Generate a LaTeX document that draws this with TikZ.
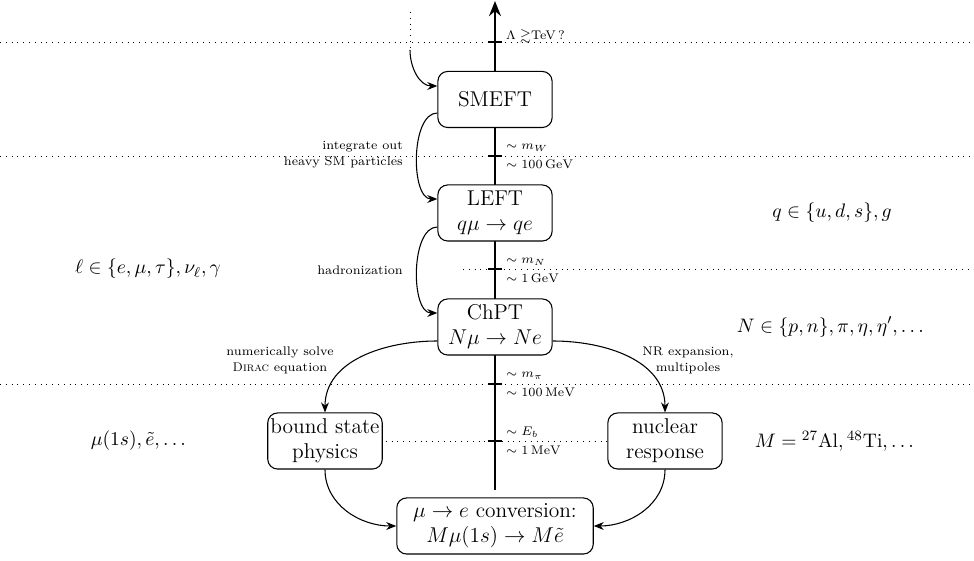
\documentclass[tikz,border=0pt]{standalone}
\usepackage{amsmath,amssymb}
\usetikzlibrary{arrows.meta,calc}
\begin{document}
\begin{tikzpicture}[x=0.56pt,y=-0.56pt,
  box/.style={draw,semithick,rounded corners=5.5pt,fill=white,align=center,minimum width=64pt,minimum height=31.4pt,inner sep=1.5pt,font=\large},
  lvl/.style={dash pattern=on 0.45pt off 2.8pt,line width=0.45pt},
  flow/.style={semithick,-{Stealth[length=5.6pt,width=4.4pt]}},
  small/.style={font=\scriptsize,inner sep=1pt},
  side/.style={font=\fontsize{11.2}{13.5}\selectfont},
  tick/.style={line width=0.8pt}]
\useasboundingbox (0,0) rectangle (974,561);
% scale levels
\draw[lvl] (0,42) -- (974,42);
\draw[lvl] (0,156) -- (974,156);
\draw[lvl] (463,269) -- (974,269);
\draw[lvl] (0,384) -- (974,384);
% axis
\coordinate (axb) at (495,490);
\coordinate (axt) at (495,1);
\draw[line width=1.5pt,-{Stealth[length=8.4pt,width=6.6pt]}] (axb) -- (axt);
\foreach \yy in {42,156,269,384,441} \draw[tick] (488,\yy) -- (502,\yy);
% nodes
\node[box] (smeft) at (495,99.5) {SMEFT};
\node[box] (left) at (495,213) {LEFT\\$q\mu\to qe$};
\node[box] (chpt) at (495,327) {ChPT\\$N\mu\to Ne$};
\node[box] (bound) at (325,441) {bound state\\physics};
\node[box] (nucl) at (665,441) {nuclear\\response};
\node[box,minimum width=110pt] (conv) at (495,526) {$\mu\to e$ conversion:\\$M\mu(1s)\to M\tilde e$};
\draw[lvl] ($(bound.east)+(3,0)$) -- (nucl.west);
% axis labels
\node[small,anchor=west] (lam) at (504,36) {$\Lambda\gtrsim$TeV\,?};
\node[small,anchor=west] (mw) at (504,148) {$\sim m_W$};
\node[small,anchor=west] (gev1) at (504,164) {$\sim 100\,\mathrm{GeV}$};
\node[small,anchor=west] (mn) at (504,262) {$\sim m_N$};
\node[small,anchor=west] (gev2) at (504,278) {$\sim 1\,\mathrm{GeV}$};
\node[small,anchor=west] (mpi) at (504,376) {$\sim m_\pi$};
\node[small,anchor=west] (mev1) at (504,392) {$\sim 100\,\mathrm{MeV}$};
\node[small,anchor=west] (eb) at (504,432) {$\sim E_b$};
\node[small,anchor=west] (mev2) at (504,450) {$\sim 1\,\mathrm{MeV}$};
% side texts
\node[side] (lep) at (148,269) {$\ell\in\{e,\mu,\tau\},\nu_\ell,\gamma$};
\node[side] (qrk) at (832,213) {$q\in\{u,d,s\},g$};
\node[side] (nuc) at (832,327) {$N\in\{p,n\},\pi,\eta,\eta',\dots$};
\node[side] (mus) at (140,441) {$\mu(1s),\tilde e,\dots$};
\node[side] (tgt) at (836,441) {$M={}^{27}\mathrm{Al},{}^{48}\mathrm{Ti},\dots$};
% curve labels
\node[small,align=right,anchor=east] (int) at (405,155) {integrate out\\[1pt]heavy SM particles};
\node[small,anchor=east] (had) at (405,270) {hadronization};
\node[small,align=center] (num) at (280,360) {numerically solve\\[1pt]\textsc{Dirac} equation};
\node[small,align=center] (nr) at (688,360) {NR expansion,\\[1pt]multipoles};
% flows
\coordinate (in1) at (410,12);
\coordinate (in2) at (410,50);
\draw[lvl] (in1) -- (in2);
\draw[flow] (in2) to[out=-90,in=180] ($(smeft.west)+(0,-13.5)$);
\draw[flow] ($(smeft.west)+(0,13.5)$) to[out=180,in=180,looseness=0.8] ($(left.west)+(0,-14)$);
\draw[flow] ($(left.west)+(0,14)$) to[out=180,in=180,looseness=0.8] ($(chpt.west)+(0,-14)$);
\draw[flow] ($(chpt.west)+(0,14)$) to[out=180,in=90] (bound.north);
\draw[flow] ($(chpt.east)+(0,14)$) to[out=0,in=90] (nucl.north);
\draw[flow] (bound.south) to[out=-90,in=180] (conv.west);
\draw[flow] (nucl.south) to[out=-90,in=0] (conv.east);
\end{tikzpicture}
\end{document}
